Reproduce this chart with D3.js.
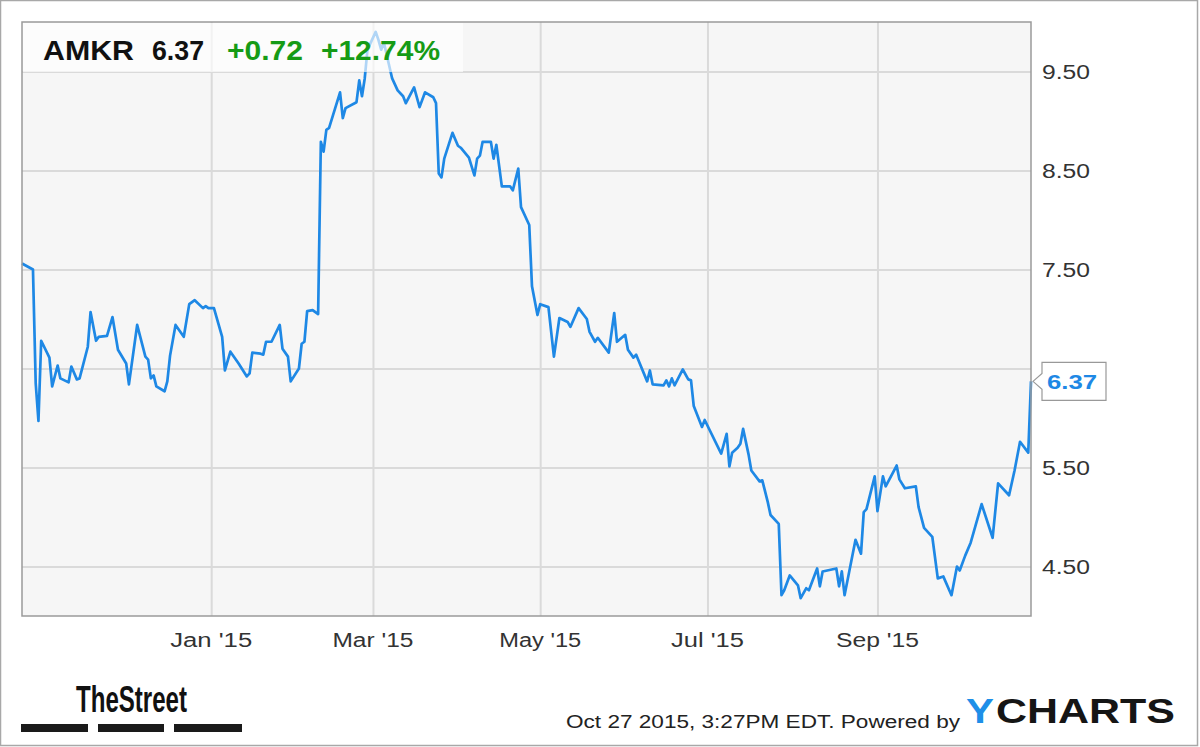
<!DOCTYPE html>
<html><head><meta charset="utf-8">
<script src="https://cdn.jsdelivr.net/npm/d3@7"></script>
<style>body{margin:0;background:#fff}svg{display:block;font-family:"Liberation Sans",Arial,sans-serif}</style>
</head><body><svg id="c" width="1200" height="747"></svg>
<script>
const dates = ["2014-10-24","2014-10-28","2014-10-29","2014-10-30","2014-10-31","2014-11-03","2014-11-04","2014-11-06","2014-11-07","2014-11-10",
"2014-11-11","2014-11-13","2014-11-14","2014-11-17","2014-11-18","2014-11-20","2014-11-21","2014-11-24","2014-11-26","2014-11-28",
"2014-12-01","2014-12-02","2014-12-05","2014-12-08","2014-12-09","2014-12-10","2014-12-11","2014-12-12","2014-12-15","2014-12-16",
"2014-12-17","2014-12-19","2014-12-22","2014-12-24","2014-12-26","2014-12-29","2014-12-30","2014-12-31","2015-01-02","2015-01-05",
"2015-01-06","2015-01-08","2015-01-11","2015-01-14","2015-01-15","2015-01-16","2015-01-19","2015-01-20","2015-01-21","2015-01-23",
"2015-01-26","2015-01-27","2015-01-29","2015-01-30","2015-02-02","2015-02-03","2015-02-04","2015-02-05","2015-02-07","2015-02-09",
"2015-02-10","2015-02-11","2015-02-12","2015-02-13","2015-02-17","2015-02-18","2015-02-19","2015-02-23","2015-02-24","2015-02-25",
"2015-02-26","2015-02-27","2015-03-02","2015-03-03","2015-03-04","2015-03-05","2015-03-08","2015-03-10","2015-03-12","2015-03-13",
"2015-03-16","2015-03-18","2015-03-20","2015-03-23","2015-03-24","2015-03-25","2015-03-26","2015-03-27","2015-03-30","2015-04-01",
"2015-04-02","2015-04-05","2015-04-07","2015-04-08","2015-04-09","2015-04-10","2015-04-13","2015-04-14","2015-04-15","2015-04-17",
"2015-04-20","2015-04-21","2015-04-23","2015-04-24","2015-04-27","2015-04-28","2015-04-30","2015-05-01","2015-05-04","2015-05-06",
"2015-05-08","2015-05-11","2015-05-12","2015-05-15","2015-05-18","2015-05-19","2015-05-21","2015-05-22","2015-05-26","2015-05-28",
"2015-05-29","2015-06-01","2015-06-02","2015-06-04","2015-06-05","2015-06-09","2015-06-10","2015-06-11","2015-06-15","2015-06-16",
"2015-06-17","2015-06-18","2015-06-19","2015-06-22","2015-06-24","2015-06-25","2015-06-26","2015-06-29","2015-06-30","2015-07-06",
"2015-07-08","2015-07-09","2015-07-10","2015-07-12","2015-07-13","2015-07-14","2015-07-16","2015-07-17","2015-07-20","2015-07-21",
"2015-07-23","2015-07-24","2015-07-27","2015-07-28","2015-07-29","2015-07-31","2015-08-03","2015-08-04","2015-08-06","2015-08-07",
"2015-08-10","2015-08-11","2015-08-12","2015-08-17","2015-08-18","2015-08-19","2015-08-20","2015-08-24","2015-08-26","2015-08-27",
"2015-08-28","2015-08-31","2015-09-01","2015-09-03","2015-09-04","2015-09-08","2015-09-09","2015-09-11","2015-09-15","2015-09-16",
"2015-09-18","2015-09-21","2015-09-23","2015-09-25","2015-09-28","2015-09-30","2015-10-01","2015-10-03","2015-10-05","2015-10-09",
"2015-10-13","2015-10-15","2015-10-19","2015-10-21","2015-10-23","2015-10-26","2015-10-27"];
const prices = [7.56,7.50,6.35,5.97,6.78,6.61,6.32,6.53,6.40,6.36,
6.52,6.39,6.40,6.72,7.07,6.78,6.82,6.83,7.02,6.69,
6.55,6.34,6.94,6.62,6.59,6.40,6.43,6.32,6.27,6.37,
6.63,6.94,6.82,7.15,7.19,7.11,7.13,7.11,7.11,6.82,
6.48,6.67,6.55,6.42,6.45,6.66,6.65,6.64,6.77,6.77,
6.94,6.70,6.62,6.37,6.50,6.75,6.77,7.08,7.09,7.05,
8.79,8.69,8.91,8.93,9.29,9.03,9.13,9.19,9.41,9.25,
9.43,9.72,9.90,9.82,9.72,9.79,9.43,9.31,9.25,9.18,
9.34,9.14,9.29,9.24,9.18,8.47,8.43,8.62,8.88,8.75,
8.73,8.63,8.45,8.62,8.65,8.79,8.79,8.62,8.76,8.34,
8.34,8.30,8.52,8.13,7.95,7.33,7.04,7.15,7.12,6.62,
7.01,6.97,6.92,7.11,7.00,6.87,6.77,6.81,6.66,7.06,
6.77,6.84,6.69,6.61,6.64,6.37,6.48,6.34,6.33,6.38,
6.32,6.40,6.33,6.49,6.39,6.38,6.12,5.91,5.98,5.64,
5.84,5.51,5.65,5.70,5.74,5.89,5.63,5.47,5.36,5.37,
5.15,5.02,4.93,4.21,4.26,4.41,4.31,4.18,4.28,4.26,
4.48,4.30,4.45,4.48,4.30,4.45,4.21,4.77,4.63,5.05,
5.08,5.41,5.06,5.41,5.31,5.52,5.38,5.29,5.31,5.10,
4.89,4.80,4.38,4.40,4.21,4.50,4.46,4.61,4.74,5.13,
4.79,5.34,5.22,5.47,5.76,5.65,6.37];
const yTicks = [4.5, 5.5, 6.5, 7.5, 8.5, 9.5];
const xTickDates = ["2015-01-01","2015-03-01","2015-05-01","2015-07-01","2015-09-01"];
const xTickLabels = ["Jan '15","Mar '15","May '15","Jul '15","Sep '15"];
const ticker = "AMKR", lastPrice = "6.37", change = "+0.72", changePct = "+12.74%";
const footerText = "Oct 27 2015, 3:27PM EDT.  Powered by";

const parse = d3.utcParse("%Y-%m-%d");
const data = dates.map((d, i) => ({date: parse(d), v: prices[i]}));
const L = 22, R = 1031, T = 22, B = 616;
const x = d3.scaleUtc().domain([parse("2014-10-24"), parse("2015-10-27")]).range([L, R]);
const y = d3.scaleLinear().domain([4, 10]).range([B, T]);
const svg = d3.select("#c");
const blue = "#1e88e5", green = "#169b16";

// outer frame
svg.append("rect").attr("x", 0.5).attr("y", 0.5).attr("width", 1197).attr("height", 745)
  .attr("fill", "#fff").attr("stroke", "#a8a8a8").attr("stroke-width", 1.5);
// plot bg
svg.append("rect").attr("x", L).attr("y", T).attr("width", R - L).attr("height", B - T).attr("fill", "#f6f6f6");

// grid
const gy = svg.append("g").attr("transform", `translate(${L},0)`)
  .call(d3.axisLeft(y).tickValues(yTicks).tickSize(-(R - L)).tickFormat(""));
gy.select(".domain").remove();
gy.selectAll("line").attr("stroke", "#dadada").attr("stroke-width", 2);
const gx = svg.append("g").attr("transform", `translate(0,${B})`)
  .call(d3.axisBottom(x).tickValues(xTickDates.map(parse)).tickSize(-(B - T)).tickFormat(""));
gx.select(".domain").remove();
gx.selectAll("line").attr("stroke", "#dadada").attr("stroke-width", 2);

// line
svg.append("path").datum(data)
  .attr("d", d3.line().x(d => x(d.date)).y(d => y(d.v)))
  .attr("fill", "none").attr("stroke", blue).attr("stroke-width", 2.7).attr("stroke-linejoin", "round");

// plot border
svg.append("rect").attr("x", L).attr("y", T).attr("width", R - L).attr("height", B - T)
  .attr("fill", "none").attr("stroke", "#9a9a9a").attr("stroke-width", 1.5);

// header box
svg.append("rect").attr("x", L + 1).attr("y", T + 1).attr("width", 440).attr("height", 49)
  .attr("fill", "#fff").attr("fill-opacity", 0.65);
const hdr = [[ticker, 43, 91, "#111"], [lastPrice, 152, 52, "#111"], [change, 227, 76, green], [changePct, 321, 119, green]];
hdr.forEach(([t, px, w, c]) => svg.append("text").attr("x", px).attr("y", 60).text(t)
  .attr("font-size", 28).attr("font-weight", "bold").attr("fill", c)
  .attr("textLength", w).attr("lengthAdjust", "spacingAndGlyphs"));

// y labels
svg.append("g").selectAll("text").data(yTicks).join("text")
  .attr("x", 1042).attr("y", d => y(d) + 7.5).text(d => d3.format(".2f")(d))
  .attr("font-size", 20).attr("fill", "#333").attr("textLength", 48).attr("lengthAdjust", "spacingAndGlyphs");

// x labels
const xw = [82, 81, 82, 73, 83];
svg.append("g").selectAll("text").data(xTickDates).join("text")
  .attr("x", (d, i) => x(parse(d)) - xw[i] / 2).attr("y", 647).text((d, i) => xTickLabels[i])
  .attr("font-size", 20).attr("fill", "#333").attr("textLength", (d, i) => xw[i]).attr("lengthAdjust", "spacingAndGlyphs");

// last value callout
const lv = y(prices[prices.length - 1]);
svg.append("path").attr("d", `M${R + 2},${lv} L${1042},${lv - 8} L${1042},${lv - 19} L${1106},${lv - 19} L${1106},${lv + 19} L${1042},${lv + 19} L${1042},${lv + 8} Z`)
  .attr("fill", "#fff").attr("stroke", "#999").attr("stroke-width", 1.2);
svg.append("text").attr("x", 1047).attr("y", lv + 7.5).text(lastPrice)
  .attr("font-size", 21).attr("font-weight", "bold").attr("fill", blue)
  .attr("textLength", 50).attr("lengthAdjust", "spacingAndGlyphs");

// footer: TheStreet
svg.append("text").attr("x", 76).attr("y", 712).text("TheStreet")
  .attr("font-size", 37).attr("font-weight", "bold").attr("fill", "#111")
  .attr("textLength", 111).attr("lengthAdjust", "spacingAndGlyphs");
[[21, 88], [98, 164], [174, 242]].forEach(([a, b]) =>
  svg.append("rect").attr("x", a).attr("y", 724).attr("width", b - a).attr("height", 8).attr("fill", "#1a1a1a"));

svg.append("text").attr("x", 566).attr("y", 728).text(footerText)
  .attr("font-size", 18).attr("fill", "#222").attr("textLength", 394).attr("lengthAdjust", "spacingAndGlyphs");
svg.append("text").attr("x", 966).attr("y", 723).text("Y")
  .attr("font-size", 35).attr("font-weight", "bold").attr("fill", "#1e8fe8")
  .attr("textLength", 28).attr("lengthAdjust", "spacingAndGlyphs");
svg.append("text").attr("x", 996).attr("y", 723).text("CHARTS")
  .attr("font-size", 35).attr("font-weight", "bold").attr("fill", "#151515")
  .attr("textLength", 179).attr("lengthAdjust", "spacingAndGlyphs");
</script></body></html>
